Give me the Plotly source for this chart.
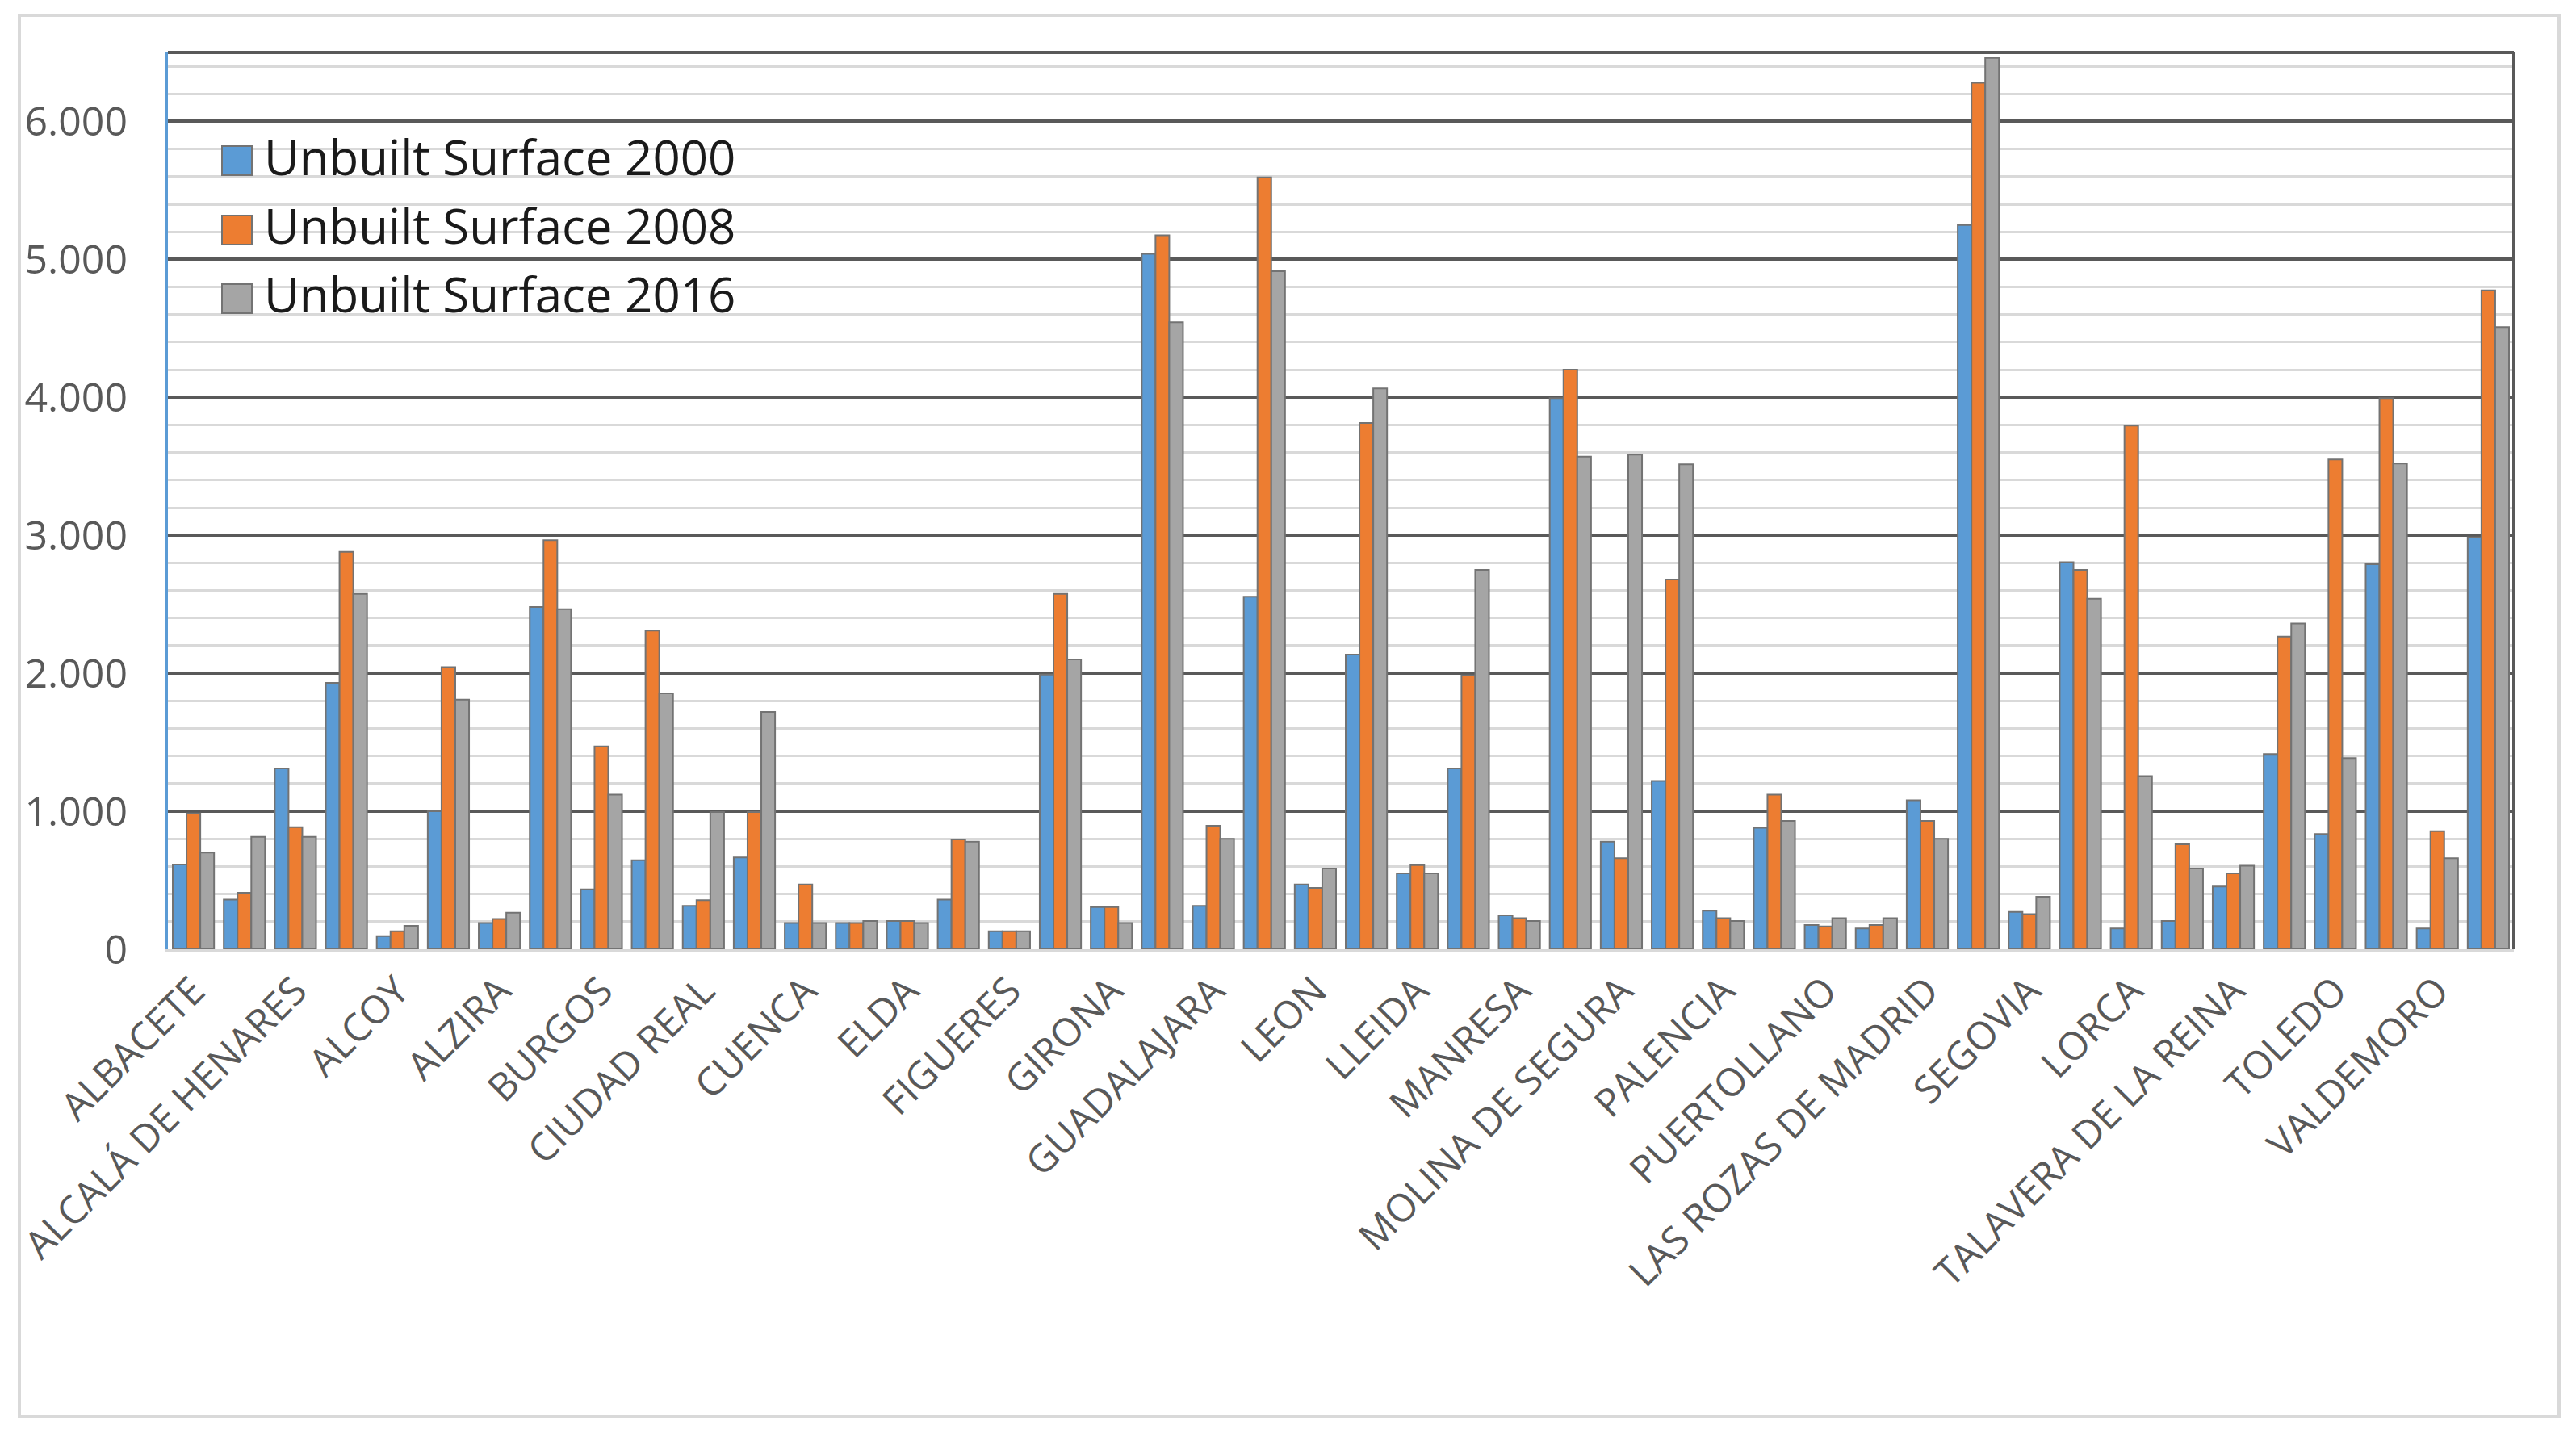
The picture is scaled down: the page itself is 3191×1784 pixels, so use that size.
import plotly.graph_objects as go

# ---- data ----
labels = ["ALBACETE", "ALCALÁ DE HENARES", "ALCOY", "ALZIRA", "BURGOS", "CIUDAD REAL",
          "CUENCA", "ELDA", "FIGUERES", "GIRONA", "GUADALAJARA", "LEON", "LLEIDA",
          "MANRESA", "MOLINA DE SEGURA", "PALENCIA", "PUERTOLLANO", "LAS ROZAS DE MADRID",
          "SEGOVIA", "LORCA", "TALAVERA DE LA REINA", "TOLEDO", "VALDEMORO"]
positions = list(range(46))          # 46 category slots, every other one labelled
label_positions = positions[::2]

surface_2000 = [615, 360, 1310, 1930, 95, 1000, 190, 2480, 435, 645, 315, 665, 190, 190,
                205, 360, 130, 1990, 305, 5040, 315, 2555, 470, 2135, 550, 1310, 245,
                3995, 780, 1220, 280, 880, 175, 150, 1080, 5250, 270, 2805, 150, 205,
                455, 1415, 835, 2790, 150, 2985]
surface_2008 = [985, 410, 885, 2880, 130, 2045, 220, 2965, 1470, 2310, 355, 995, 470, 190,
                205, 795, 130, 2575, 305, 5175, 895, 5595, 445, 3815, 610, 1985, 225,
                4200, 660, 2680, 225, 1120, 165, 175, 930, 6280, 255, 2750, 3795, 760,
                550, 2265, 3550, 3995, 855, 4775]
surface_2016 = [700, 815, 815, 2575, 170, 1810, 265, 2465, 1120, 1855, 995, 1720, 190, 205,
                190, 780, 130, 2100, 190, 4545, 800, 4915, 585, 4065, 550, 2750, 205,
                3570, 3585, 3515, 205, 930, 225, 225, 800, 6460, 380, 2540, 1255, 585,
                605, 2360, 1385, 3520, 660, 4510]

series = [("Unbuilt Surface 2000", surface_2000, "#5b9bd5"),
          ("Unbuilt Surface 2008", surface_2008, "#ed7d31"),
          ("Unbuilt Surface 2016", surface_2016, "#a5a5a5")]

W, H = 3191, 1784
L, R, T, B = 208, 77, 65, 608
PW, PH = W - L - R, H - T - B

def px(x):
    return (x - L) / PW

def py(y):
    return (H - B - y) / PH

fig = go.Figure()
for i, (name, vals, col) in enumerate(series):
    fig.add_trace(go.Bar(
        x=positions, y=vals, name=name, legendgroup=f"g{i}",
        marker=dict(color=col, line=dict(color="#737373", width=2)),
    ))

shapes = []
# outer chart-area border
shapes.append(dict(type="rect", xref="paper", yref="paper",
                   x0=px(24), x1=px(3170), y0=py(1755), y1=py(19),
                   line=dict(color="#d9d9d9", width=4), layer="below"))
# plot-area top and right edges
shapes.append(dict(type="line", xref="paper", yref="paper", x0=0, x1=1, y0=1, y1=1,
                   line=dict(color="#595959", width=4)))
shapes.append(dict(type="line", xref="paper", yref="paper", x0=1, x1=1, y0=0, y1=1,
                   line=dict(color="#595959", width=4)))
# enlarged legend keys (backing squares under the legend symbols)
for (name, vals, col), cy in zip(series, [199, 285, 370]):
    shapes.append(dict(type="rect", xref="paper", yref="paper",
                       x0=px(275), x1=px(312), y0=py(cy + 18), y1=py(cy - 18),
                       fillcolor=col, line=dict(color="#737373", width=2), layer="above"))

fig.update_layout(
    width=W, height=H,
    margin=dict(l=L, r=R, t=T, b=B, pad=0),
    paper_bgcolor="white", plot_bgcolor="white",
    barmode="group", bargap=0.19, bargroupgap=0,
    separators=",.",
    font=dict(family="Open Sans", color="#595959"),
    showlegend=True,
    legend=dict(x=px(260), y=py(148), xanchor="left", yanchor="top",
                bgcolor="rgba(0,0,0,0)", font=dict(size=60, color="#1a1a1a"),
                traceorder="grouped", tracegroupgap=4, itemwidth=57,
                borderwidth=0),
    shapes=shapes,
    xaxis=dict(range=[-0.5, 45.5], tickvals=label_positions, ticktext=labels,
               tickangle=-45, tickfont=dict(size=48, color="#595959"),
               showgrid=False, showline=True, linecolor="#d9d9d9", linewidth=4,
               ticks="", zeroline=False),
    yaxis=dict(range=[0, 6500], dtick=1000, tick0=0, tickformat=",d",
               tickfont=dict(size=50, color="#595959"),
               showgrid=True, gridcolor="#595959", gridwidth=4,
               minor=dict(dtick=200, tick0=0, showgrid=True, gridcolor="#d9d9d9", gridwidth=3),
               showline=True, linecolor="#5b9bd5", linewidth=4,
               zeroline=False, ticks="", ticklabelstandoff=36),
)

post = (
    "document.body.style.margin='0';document.body.style.overflow='hidden';"
    "document.querySelectorAll('g.legendpoints path').forEach(function(p){p.style.opacity='0';});"
)
fig.write_html("out.html", config={"displayModeBar": False}, post_script=post)
